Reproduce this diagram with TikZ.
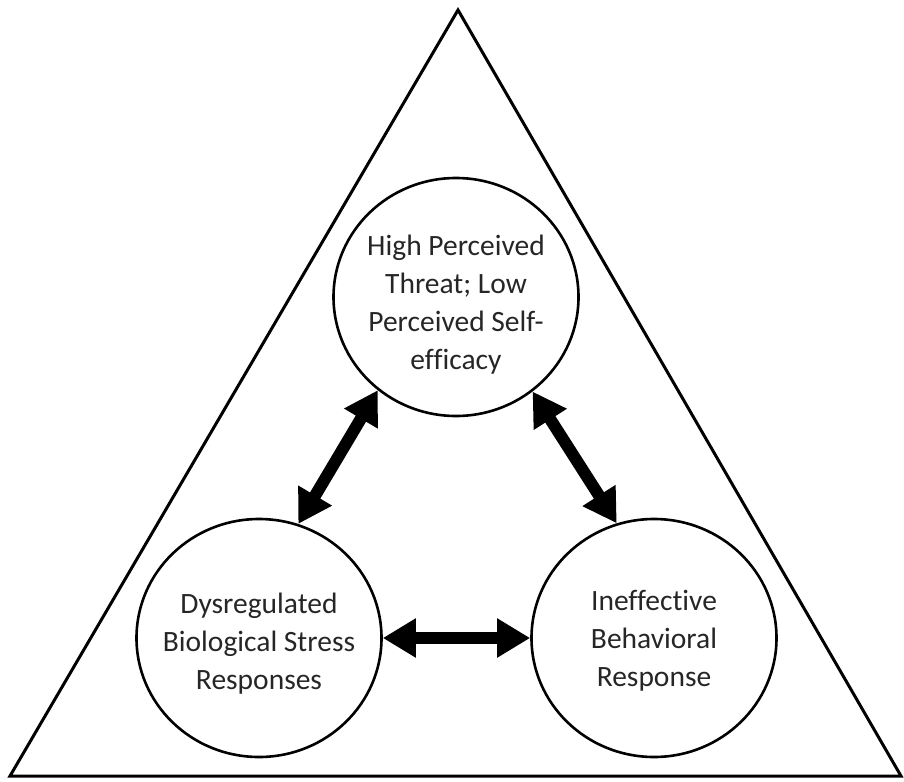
\documentclass[tikz,border=0pt]{standalone}
\usepackage{fontspec}
\setmainfont{Carlito}[Ligatures=NoCommon]
\usetikzlibrary{arrows.meta,shapes.geometric}
\begin{document}
\begin{tikzpicture}[x=1pt,y=-1pt,
  bubble/.style={ellipse,draw,line width=2.6pt,minimum width=245pt,minimum height=238pt,inner sep=0pt},
  label/.style={align=center,inner sep=0pt,font=\fontsize{29.5}{38}\selectfont,text=black!85},
  link/.style={line width=12pt,{Triangle[length=33pt,width=37pt]}-{Triangle[length=33pt,width=37pt]}}]
\useasboundingbox (0,0) rectangle (904,781);
\coordinate (apex) at (458,10);
\coordinate (bl) at (10,776);
\coordinate (br) at (901,776);
\draw[line width=3pt,line join=miter] (apex) -- (br) -- (bl) -- cycle;
\node[bubble] (top) at (456,297) {};
\node[bubble] (left) at (259,638) {};
\node[bubble] (right) at (654,638) {};
\node[label] (toptext) at ([yshift=-8pt]top.center) {High Perceived\\Threat; Low\\Perceived Self-\\efficacy};
\node[label] (lefttext) at ([yshift=-6pt]left.center) {Dysregulated\\Biological Stress\\Responses};
\node[label] (righttext) at ([yshift=-3pt]right.center) {Ineffective\\Behavioral\\Response};
\draw[link] (top.230.7) -- (left.71);
\draw[link] (top.309.6) -- (right.108.6);
\draw[link] (left.east) -- (right.west);
\end{tikzpicture}
\end{document}
